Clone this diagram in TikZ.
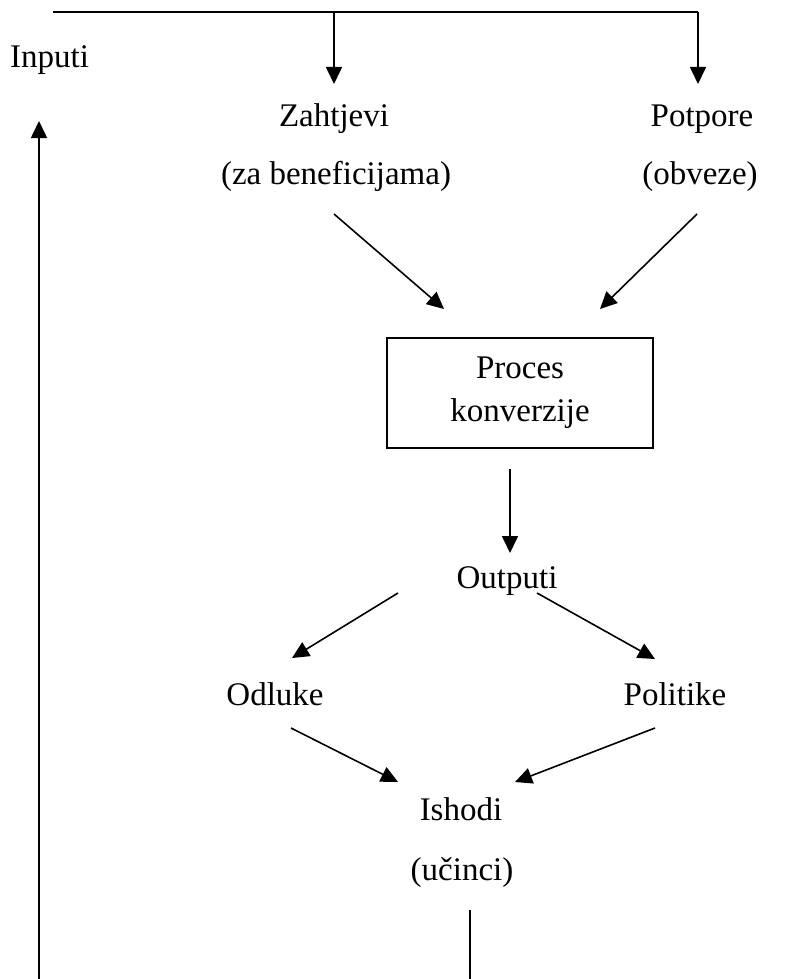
\documentclass[tikz,border=0pt]{standalone}
\usepackage{fontspec}
\setmainfont{Liberation Serif}
\usetikzlibrary{arrows.meta}
\begin{document}
\begin{tikzpicture}[x=1pt,y=-1pt,
  lbl/.style={anchor=base,inner sep=0pt,font=\fontsize{33}{39}\selectfont},
  link/.style={line width=1.6pt},
  arr/.style={link,-{Triangle[length=17pt,width=16pt]}},
  procbox/.style={draw,line width=1.8pt,minimum width=266pt,minimum height=110pt,inner sep=0pt}]
\useasboundingbox (0,0) rectangle (795,979);

% labels
\node[lbl,anchor=base west] (inp) at (10,68) {Inputi};
\node[lbl] (zah) at (334,126) {Zahtjevi};
\node[lbl] (zahb) at (336,184) {(za beneficijama)};
\node[lbl] (pot) at (702,126) {Potpore};
\node[lbl] (potb) at (700,184) {(obveze)};
\node[procbox,align=center,font=\fontsize{33}{43}\selectfont] (proc) at (520,393) {Proces\\konverzije};
\node[lbl] (out) at (507,588) {Outputi};
\node[lbl] (odl) at (275,705) {Odluke};
\node[lbl] (pol) at (675,705) {Politike};
\node[lbl] (ish) at (461,820) {Ishodi};
\node[lbl] (ishb) at (462,880) {(učinci)};

% connector end points
\coordinate (topL) at (53,12);
\coordinate (topA) at (334,12);
\coordinate (topB) at (698,12);
\coordinate (zahT) at (334,84);
\coordinate (potT) at (698,84);
\coordinate (zahS) at (334,214);
\coordinate (zahE) at (444,309);
\coordinate (potS) at (697,214);
\coordinate (potE) at (600,309);
\coordinate (procS) at (510,469);
\coordinate (outT) at (510,553);
\coordinate (outL) at (398,593);
\coordinate (odlT) at (292,658);
\coordinate (outR) at (537,593);
\coordinate (polT) at (655,659);
\coordinate (odlS) at (291,728);
\coordinate (ishL) at (398,782);
\coordinate (polS) at (655,728);
\coordinate (ishR) at (515,782);
\coordinate (ishS) at (470,910);
\coordinate (ishB) at (470,979);
\coordinate (fbB) at (39,979);
\coordinate (fbT) at (39,121);

% inputs feeding the system
\draw[link] (topL) -- (topB);
\draw[arr] (topA) -- (zahT);
\draw[arr] (topB) -- (potT);
\draw[arr] (zahS) -- (zahE);
\draw[arr] (potS) -- (potE);
\draw[arr] (procS) -- (outT);
\draw[arr] (outL) -- (odlT);
\draw[arr] (outR) -- (polT);
\draw[arr] (odlS) -- (ishL);
\draw[arr] (polS) -- (ishR);

% feedback
\draw[link] (ishS) -- (ishB);
\draw[arr] (fbB) -- (fbT);
\end{tikzpicture}
\end{document}
